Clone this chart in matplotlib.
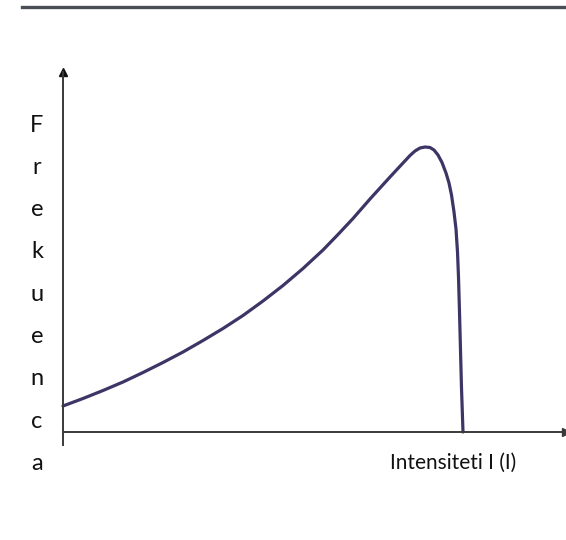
import matplotlib.pyplot as plt
from matplotlib.lines import Line2D

# Curve (arbitrary units, origin at the axes corner)
intensity = [0, 20, 40, 60, 80, 100, 120, 140, 160, 180, 200, 220, 240, 260,
             275, 290, 307, 327, 340, 347, 352, 357, 362, 367, 371, 375, 379,
             383, 386, 388.5, 391, 393, 394.5, 395.5, 396.5, 397.5, 398.5, 400]
frequency = [26, 33.5, 41.5, 50, 59.5, 69.5, 80, 91.5, 103.5, 116.5, 131, 146.5,
             163.5, 182, 197.5, 213.5, 233, 255, 269, 276.5, 281, 284, 285,
             284.5, 282, 277, 269.5, 259, 249, 237, 220, 203, 180, 155, 120,
             82, 44, 0]

y_letters = list("Frekuenca")
x_label = "Intensiteti I (I)"

W, H = 566, 540
fig = plt.figure(figsize=(W / 100, H / 100), dpi=100)
fig.patch.set_facecolor("white")

# axes box in pixels: left 63, right 566, top 72, bottom 445
ax = fig.add_axes([63 / W, (H - 445) / H, (566 - 63) / W, (445 - 72) / H])
ax.set_xlim(0, 503)
ax.set_ylim(-13, 360)

axis_col = "#3a3a3a"
for s in ["top", "right"]:
    ax.spines[s].set_visible(False)
ax.spines["left"].set_position(("data", 0))
ax.spines["bottom"].set_position(("data", 0))
for s in ["left", "bottom"]:
    ax.spines[s].set_color(axis_col)
    ax.spines[s].set_linewidth(1.4)
ax.set_xticks([])
ax.set_yticks([])
ax.patch.set_alpha(0)

# arrow heads
ax.plot(1, 0, ">", color=axis_col, markersize=6, transform=ax.get_yaxis_transform(), clip_on=False)
ax.plot(0, 1, "^", color="#111111", markersize=6, transform=ax.get_xaxis_transform(), clip_on=False)

ax.plot(intensity, frequency, color="#3d3566", linewidth=2.3,
        solid_joinstyle="round", solid_capstyle="round", clip_on=False)

# top rule
fig.add_artist(Line2D([22 / W, 1], [1 - 7 / H, 1 - 7 / H], color="#4a4f55", linewidth=2.4))

# vertical label, one letter per line
for i, ch in enumerate(y_letters):
    fig.text(37 / W, 1 - (125 + i * 42.3) / H, ch, ha="center", va="center",
             fontsize=17, family="Lato", color="#111111")

fig.text(453 / W, 1 - 463 / H, x_label, ha="center", va="center",
         fontsize=15, family="Lato", color="#111111")

fig.savefig("out.png", dpi=100)
